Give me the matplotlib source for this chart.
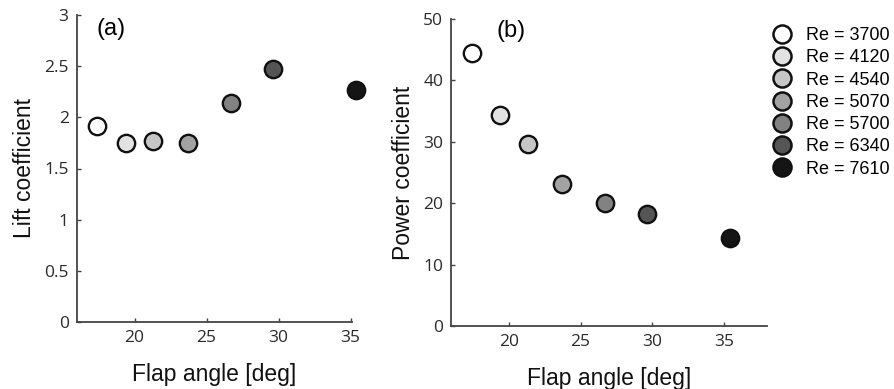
import matplotlib.pyplot as plt
from matplotlib.lines import Line2D

# flap angle [deg] for each Reynolds number
flap_angle = [17.4, 19.4, 21.3, 23.7, 26.7, 29.6, 35.4]
lift_coef = [1.92, 1.75, 1.77, 1.75, 2.14, 2.47, 2.27]
power_coef = [44.4, 34.3, 29.6, 23.1, 20.1, 18.3, 14.3]
reynolds = [3700, 4120, 4540, 5070, 5700, 6340, 7610]
grays = ['#ffffff', '#e2e2e2', '#c6c6c6', '#a2a2a2', '#828282', '#555555', '#151515']

plt.rcParams['font.family'] = ['Liberation Sans', 'DejaVu Sans']

W, H = 894, 389
fig = plt.figure(figsize=(W / 100, H / 100), dpi=100)


def px_axes(left, right, top, bottom):
    return fig.add_axes([left / W, 1 - bottom / H, (right - left) / W, (bottom - top) / H])


ax_a = px_axes(77, 352, 15, 322)
ax_b = px_axes(451.5, 767, 19, 326)

spine_col = '#444444'
for ax in (ax_a, ax_b):
    for s in ('top', 'right'):
        ax.spines[s].set_visible(False)
    for s in ('left', 'bottom'):
        ax.spines[s].set_color(spine_col)
        ax.spines[s].set_linewidth(1.3)
    ax.tick_params(direction='in', length=3, width=1, color=spine_col,
                   labelsize=12.5, labelcolor='#2a2a2a', pad=6)
    ax.set_xlabel('Flap angle [deg]', fontsize=16.5, labelpad=12, color='#111111')


def draw(ax, yvals):
    for x, y, c in zip(flap_angle, yvals, grays):
        ax.plot(x, y, 'o', ms=12.5, mfc=c, mec='#111111', mew=1.7, clip_on=False, zorder=3)


draw(ax_a, lift_coef)
ax_a.set_xlim(16, 35.1)
ax_a.set_ylim(0, 3)
ax_a.set_xticks([20, 25, 30, 35])
ax_a.set_yticks([0, 0.5, 1, 1.5, 2, 2.5, 3])
ax_a.set_yticklabels(['0', '0.5', '1', '1.5', '2', '2.5', '3'])
ax_a.set_ylabel('Lift coefficient', fontsize=16.5, labelpad=6, color='#111111')
ax_a.text(0.124, 0.955, '(a)', transform=ax_a.transAxes, fontsize=17, ha='center', va='center')

draw(ax_b, power_coef)
ax_b.set_xlim(16, 38)
ax_b.set_ylim(0, 50)
ax_b.set_xticks([20, 25, 30, 35])
ax_b.set_yticks([0, 10, 20, 30, 40, 50])
ax_b.set_ylabel('Power coefficient', fontsize=16.5, labelpad=6, color='#111111')
ax_b.text(0.19, 0.96, '(b)', transform=ax_b.transAxes, fontsize=17, ha='center', va='center')

for ax in (ax_a, ax_b):
    for lab in ax.get_xticklabels() + ax.get_yticklabels():
        lab.set_family(['Open Sans', 'DejaVu Sans'])

handles = [Line2D([], [], ls='none', marker='o', ms=13, mfc=c, mec='#111111', mew=1.8)
           for c in grays]
labels = ['Re = %d' % r for r in reynolds]
fig.legend(handles, labels, loc='upper left', bbox_to_anchor=(766 / W, 1 - 20 / H),
           frameon=False, fontsize=13, handletextpad=0.8, labelspacing=0.29,
           handlelength=1.0, borderaxespad=0)

fig.savefig('out.png', dpi=100)
